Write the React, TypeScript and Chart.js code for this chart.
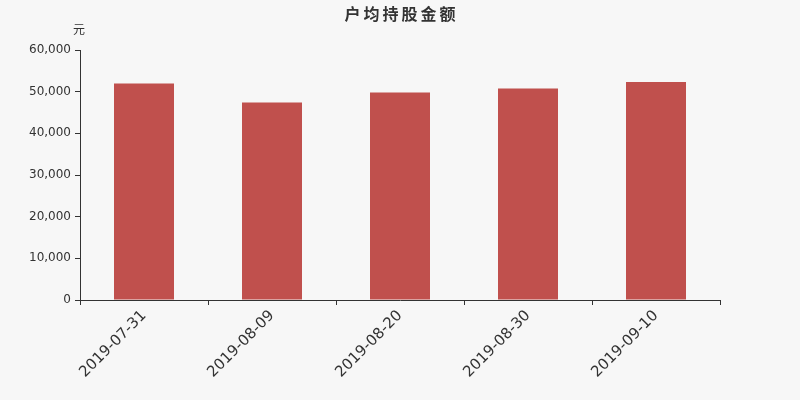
import React, { useEffect, useRef } from "react";
import { Chart, registerables } from "chart.js";

Chart.register(...registerables);

const categories: string[] = ["2019-07-31", "2019-08-09", "2019-08-20", "2019-08-30", "2019-09-10"];
const values: number[] = [51960, 47400, 49800, 50760, 52320];
const titleText = "户均持股金额";
const unitText = "元";
const yMin = 0;
const yMax = 60000;
const yStep = 10000;

const BG = "#f7f7f7";
const BAR = "#c0504d";
const AXIS = "#333333";
const FONT = "'DejaVu Sans', sans-serif";

const textPlugin = {
  id: "textPlugin",
  beforeDraw(chart: any) {
    const ctx = chart.ctx;
    ctx.save();
    ctx.fillStyle = BG;
    ctx.fillRect(0, 0, chart.width, chart.height);
    ctx.restore();
  },
  afterDraw(chart: any) {
    const ctx = chart.ctx;
    const area = chart.chartArea;
    ctx.save();
    ctx.fillStyle = AXIS;
    ctx.textAlign = "center";
    ctx.textBaseline = "middle";
    ctx.font = "bold 16px 'Noto Sans CJK SC', sans-serif";
    try { (ctx as any).letterSpacing = "3px"; } catch (e) {}
    ctx.fillText(titleText, chart.width / 2 + 1.5, 14);
    try { (ctx as any).letterSpacing = "0px"; } catch (e) {}
    ctx.font = "12px 'Noto Sans CJK SC', sans-serif";
    ctx.fillText(unitText, area.left - 1, 29);
    ctx.restore();
  },
};

export default function App() {
  const ref = useRef<HTMLCanvasElement | null>(null);

  useEffect(() => {
    document.body.style.margin = "0";
    document.body.style.background = BG;
    if (!ref.current) return;
    const chart = new Chart(ref.current, {
      type: "bar",
      data: {
        labels: categories,
        datasets: [
          {
            data: values,
            backgroundColor: BAR,
            borderWidth: 0,
            barPercentage: 1,
            categoryPercentage: 60 / 128,
          },
        ],
      },
      options: {
        animation: false,
        responsive: true,
        maintainAspectRatio: false,
        devicePixelRatio: 1,
        layout: { padding: { top: 50, right: 80, left: 0, bottom: 0 } },
        plugins: {
          legend: { display: false },
          title: { display: false },
          tooltip: { enabled: false },
        },
        scales: {
          x: {
            type: "category",
            offset: true,
            afterFit: (s: any) => {
              s.height = 100;
            },
            grid: {
              offset: true,
              drawOnChartArea: false,
              drawTicks: true,
              tickLength: 5,
              color: AXIS,
            },
            border: { display: true, color: AXIS, width: 1 },
            ticks: {
              autoSkip: false,
              maxRotation: 45,
              minRotation: 45,
              color: AXIS,
              padding: 2,
              font: { family: FONT, size: 15 },
            },
          },
          y: {
            min: yMin,
            max: yMax,
            afterFit: (s: any) => {
              s.width = 80;
            },
            grid: {
              drawOnChartArea: false,
              drawTicks: true,
              tickLength: 5,
              color: AXIS,
            },
            border: { display: true, color: AXIS, width: 1 },
            ticks: {
              stepSize: yStep,
              color: AXIS,
              padding: 4,
              font: { family: FONT, size: 12 },
              callback: (v: any) => Number(v).toLocaleString("en-US"),
            },
          },
        },
      },
      plugins: [textPlugin],
    });
    return () => chart.destroy();
  }, []);

  return (
    <div style={{ position: "fixed", left: 0, top: 0, width: 800, height: 400, background: BG }}>
      <canvas ref={ref} />
    </div>
  );
}
